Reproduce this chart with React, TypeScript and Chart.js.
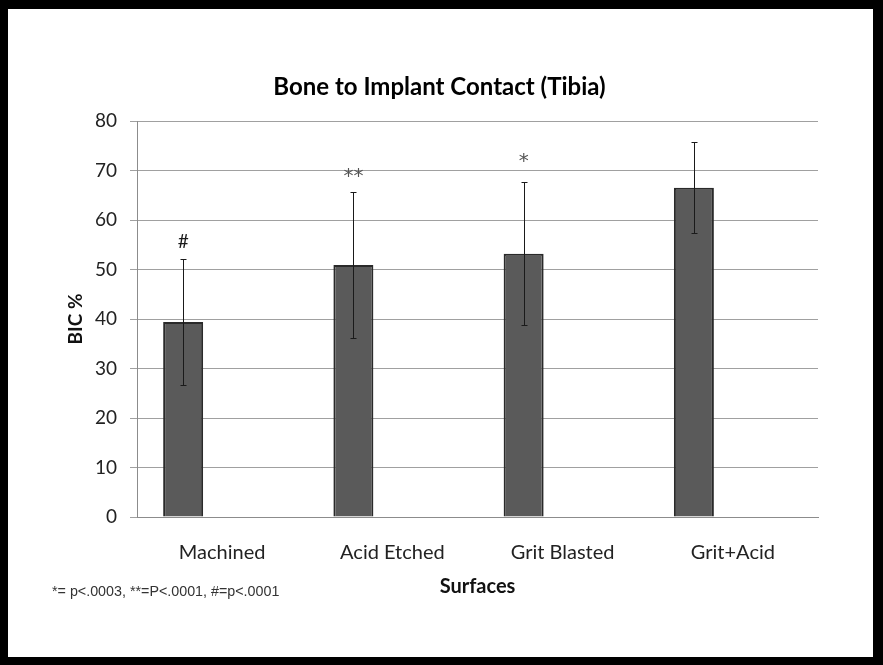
import React, { useEffect, useRef } from 'react';
import { Chart, registerables } from 'chart.js';

Chart.register(...registerables);

const categories = ['Machined', 'Acid Etched', 'Grit Blasted', 'Grit+Acid'];
const bicMeans = [39.4, 50.9, 53.2, 66.5];
const bicErrors = [12.8, 14.7, 14.4, 9.2];
const markerLabels = ['#', '**', '*', ''];
const markerValues: (number | null)[] = [55.5, 68.8, 71.8, null];
const emptySeries = [0, 0, 0, 0];
const chartTitle = 'Bone to Implant Contact (Tibia)';
const yAxisTitle = 'BIC %';
const xAxisTitle = 'Surfaces';
const footnote = '*= p<.0003, **=P<.0001, #=p<.0001';

const FONT = 'Lato, "Open Sans", sans-serif';

const annotationsPlugin = {
  id: 'annotations',
  afterDatasetsDraw(chart: any) {
    const { ctx, scales } = chart;
    const y = scales.y;
    const meta = chart.getDatasetMeta(0);
    ctx.save();
    // error bars
    ctx.strokeStyle = '#1a1a1a';
    ctx.lineWidth = 1;
    meta.data.forEach((bar: any, i: number) => {
      const x = Math.round(bar.x) + 0.5;
      const top = Math.round(y.getPixelForValue(bicMeans[i] + bicErrors[i])) + 0.5;
      const bot = Math.round(y.getPixelForValue(bicMeans[i] - bicErrors[i])) + 0.5;
      ctx.beginPath();
      ctx.moveTo(x, top);
      ctx.lineTo(x, bot);
      ctx.moveTo(x - 3, top);
      ctx.lineTo(x + 3, top);
      ctx.moveTo(x - 3, bot);
      ctx.lineTo(x + 3, bot);
      ctx.stroke();
    });
    // significance markers
    ctx.textAlign = 'center';
    ctx.textBaseline = 'middle';
    meta.data.forEach((bar: any, i: number) => {
      const v = markerValues[i];
      if (v === null || !markerLabels[i]) return;
      const isHash = markerLabels[i] === '#';
      ctx.fillStyle = isHash ? '#1a1a1a' : '#555';
      ctx.font = isHash ? `19px ${FONT}` : '20px "DejaVu Sans", sans-serif';
      ctx.fillText(markerLabels[i], bar.x, y.getPixelForValue(v));
    });
    ctx.restore();
  },
  afterDraw(chart: any) {
    const { ctx } = chart;
    ctx.save();
    ctx.fillStyle = '#333';
    ctx.font = '14.3px "Liberation Sans", Arial, sans-serif';
    ctx.textAlign = 'left';
    ctx.textBaseline = 'middle';
    ctx.fillText(footnote, 52, chart.height - 73);
    ctx.restore();
  },
};

export default function App() {
  const canvasRef = useRef<HTMLCanvasElement | null>(null);

  useEffect(() => {
    if (!canvasRef.current) return;
    const chart = new Chart(canvasRef.current, {
      type: 'bar',
      data: {
        labels: categories,
        datasets: [
          {
            label: 'BIC %',
            data: bicMeans,
            backgroundColor: '#5a5a5a',
            borderColor: '#2a2a2a',
            borderWidth: 2,
            categoryPercentage: 0.916,
            barPercentage: 0.513,
          },
          {
            label: 'spacer',
            data: emptySeries,
            backgroundColor: 'rgba(0,0,0,0)',
            borderWidth: 0,
            categoryPercentage: 0.916,
            barPercentage: 0.513,
          },
        ],
      },
      options: {
        responsive: false,
        animation: false,
        layout: { padding: { top: 9, left: 61, right: 65, bottom: 66 } },
        plugins: {
          legend: { display: false },
          tooltip: { enabled: false },
          title: {
            display: true,
            text: chartTitle,
            color: '#000',
            font: { family: FONT, size: 24, weight: 'bold' },
            padding: { top: 63.6, bottom: 19.6 },
          },
        },
        scales: {
          x: {
            grid: { display: false },
            border: { display: true, color: '#8c8c8c', width: 1 },
            ticks: {
              color: '#222',
              font: { family: FONT, size: 20 },
              padding: 16,
              maxRotation: 0,
            },
            title: {
              display: true,
              text: xAxisTitle,
              color: '#111',
              font: { family: FONT, size: 20, weight: 'bold' },
              padding: { top: 0, bottom: 0 },
            },
            afterFit: (s: any) => {
              s.height = 82;
            },
          },
          y: {
            min: 0,
            max: 80,
            ticks: {
              stepSize: 10,
              color: '#222',
              font: { family: FONT, size: 19 },
              padding: 13,
            },
            grid: {
              color: '#a0a0a0',
              lineWidth: 1,
              drawTicks: true,
              tickLength: 7,
            },
            border: { display: true, color: '#8c8c8c', width: 1 },
            title: {
              display: true,
              text: yAxisTitle,
              color: '#111',
              font: { family: FONT, size: 19, weight: 'bold' },
              padding: { top: 3, bottom: 4 },
            },
            afterFit: (s: any) => {
              s.width = 76;
            },
          },
        },
      },
      plugins: [annotationsPlugin],
    });
    return () => chart.destroy();
  }, []);

  return (
    <div
      style={{
        position: 'absolute',
        left: 0,
        top: 0,
        width: 883,
        height: 665,
        background: '#fff',
      }}
    >
      <canvas
        ref={canvasRef}
        width={883}
        height={665}
        style={{ position: 'absolute', left: 0, top: 0, width: 883, height: 665 }}
      />
      <div
        style={{
          position: 'absolute',
          left: 0,
          top: 0,
          width: 883,
          height: 665,
          boxSizing: 'border-box',
          borderStyle: 'solid',
          borderColor: '#000',
          borderWidth: '9px 10px 8px 8px',
          pointerEvents: 'none',
        }}
      />
    </div>
  );
}
